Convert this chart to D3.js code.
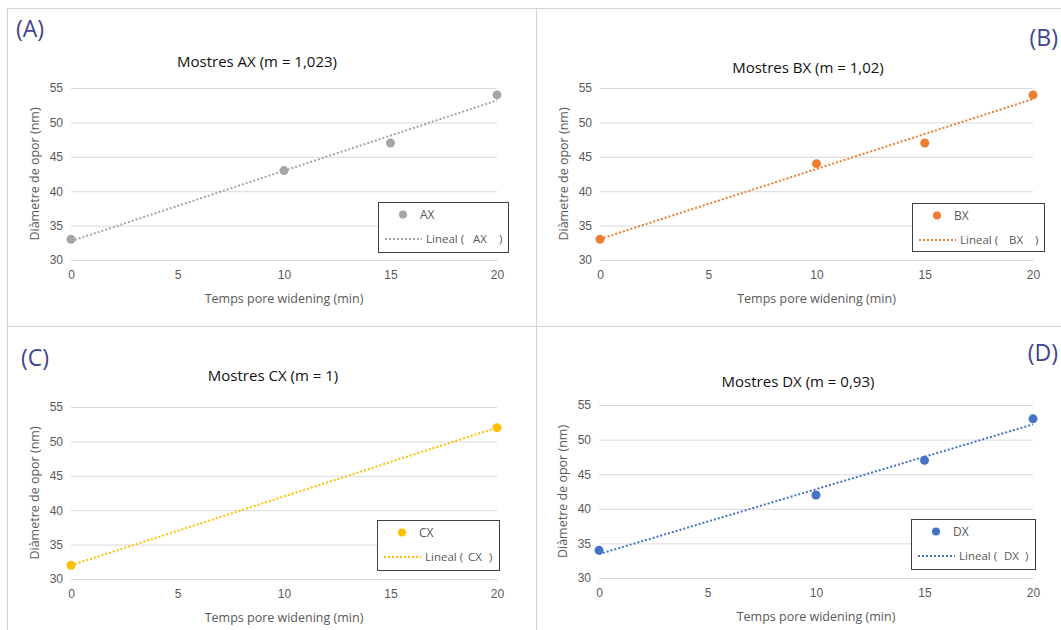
<!DOCTYPE html>
<html>
<head>
<meta charset="utf-8">
<script src="https://cdn.jsdelivr.net/npm/d3@7"></script>
<style>
    body { margin: 0; background: #fff; }
    svg { font-family: "Open Sans", "Noto Sans", sans-serif; }
</style>
</head>
<body>
<svg id="chart" width="1061" height="630"></svg>
<script>
// data
var panelLetters = ["(A)", "(B)", "(C)", "(D)"];
var seriesNames = ["AX", "BX", "CX", "DX"];
var slopeLabels = ["1,023", "1,02", "1", "0,93"];
var timeAX = [0, 10, 15, 20], diamAX = [33, 43, 47, 54];
var timeBX = [0, 10, 15, 20], diamBX = [33, 44, 47, 54];
var timeCX = [0, 20], diamCX = [32, 52];
var timeDX = [0, 10, 15, 20], diamDX = [34, 42, 47, 53];
var xTicks = [0, 5, 10, 15, 20];
var yTicks = [30, 35, 40, 45, 50, 55];
var xTitle = "Temps pore widening (min)";
var yTitle = "Diàmetre de opor (nm)";

var seriesColors = ["#a5a5a5", "#ed7d31", "#ffc000", "#4472c4"];

// layout of each panel (plot box, title, letter, legend)
var layout = [
    { x0: 71, x1: 497, y0: 88, y1: 260, titleX: 257, titleY: 67, letterX: 16, letterY: 37, letterAnchor: "start",
      lg: { x: 378, y: 202, w: 130, h: 50, name: 95, paren: 121 } },
    { x0: 600, x1: 1033, y0: 88, y1: 260, titleX: 808, titleY: 73, letterX: 1058, letterY: 46, letterAnchor: "end",
      lg: { x: 912, y: 203, w: 132, h: 48, name: 97, paren: 123 } },
    { x0: 71, x1: 497, y0: 407, y1: 579, titleX: 273, titleY: 381, letterX: 21, letterY: 366, letterAnchor: "start",
      lg: { x: 377, y: 520, w: 122, h: 50, name: 91, paren: 112 } },
    { x0: 599, x1: 1033, y0: 405, y1: 578, titleX: 798, titleY: 387, letterX: 1058, letterY: 361, letterAnchor: "end",
      lg: { x: 911, y: 519, w: 124, h: 50, name: 93, paren: 114 } }
];

var times = [timeAX, timeBX, timeCX, timeDX];
var diams = [diamAX, diamBX, diamCX, diamDX];

var svg = d3.select("#chart");

// panel frames
var frameColor = "#d4d4d4";
svg.append("line").attr("x1", 7).attr("x2", 1061).attr("y1", 8.5).attr("y2", 8.5).attr("stroke", frameColor);
svg.append("line").attr("x1", 7).attr("x2", 1061).attr("y1", 326.5).attr("y2", 326.5).attr("stroke", frameColor);
svg.append("line").attr("x1", 7.5).attr("x2", 7.5).attr("y1", 8).attr("y2", 630).attr("stroke", frameColor);
svg.append("line").attr("x1", 536.5).attr("x2", 536.5).attr("y1", 8).attr("y2", 630).attr("stroke", frameColor);

var linearFit = function (xs, ys) {
    var mx = d3.mean(xs), my = d3.mean(ys);
    var sxy = d3.sum(xs, function (x, i) { return (x - mx) * (ys[i] - my); });
    var sxx = d3.sum(xs, function (x) { return (x - mx) * (x - mx); });
    var slope = sxy / sxx;
    return { slope: slope, intercept: my - slope * mx };
};

layout.forEach(function (L, i) {
    var color = seriesColors[i];
    var xs = times[i], ys = diams[i];
    var points = xs.map(function (x, j) { return { t: x, d: ys[j] }; });

    var xScale = d3.scaleLinear().domain([0, 20]).range([L.x0, L.x1]);
    var yScale = d3.scaleLinear().domain([30, 55]).range([L.y1, L.y0]);
    var g = svg.append("g");

    // grid
    var yAxis = d3.axisLeft(yScale)
        .tickValues(yTicks)
        .tickSize(-(L.x1 - L.x0))
        .tickPadding(8)
        .tickFormat(d3.format("d"));
    var yG = g.append("g").attr("transform", `translate(${L.x0},0)`).call(yAxis);
    yG.select(".domain").remove();
    yG.selectAll(".tick line").attr("stroke", "#d9d9d9");
    yG.selectAll(".tick text").attr("fill", "#595959").attr("font-size", 12).attr("font-family", null);

    var xAxis = d3.axisBottom(xScale)
        .tickValues(xTicks)
        .tickSize(0)
        .tickPadding(10)
        .tickFormat(d3.format("d"));
    var xG = g.append("g").attr("transform", `translate(0,${L.y1})`).call(xAxis);
    xG.select(".domain").attr("stroke", "#d9d9d9");
    xG.selectAll(".tick text").attr("fill", "#595959").attr("font-size", 12).attr("font-family", null);

    // titles
    g.append("text")
        .attr("x", L.titleX).attr("y", L.titleY)
        .attr("text-anchor", "middle")
        .attr("font-size", 15)
        .attr("fill", "#111")
        .text(`Mostres ${seriesNames[i]} (m = ${slopeLabels[i]})`);
    g.append("text")
        .attr("x", (L.x0 + L.x1) / 2).attr("y", L.y1 + 43)
        .attr("text-anchor", "middle")
        .attr("font-size", 12.5)
        .attr("fill", "#595959")
        .text(xTitle);
    g.append("text")
        .attr("transform", `translate(${L.x0 - 32},${(L.y0 + L.y1) / 2}) rotate(-90)`)
        .attr("text-anchor", "middle")
        .attr("font-size", 12.5)
        .attr("fill", "#595959")
        .text(yTitle);
    g.append("text")
        .attr("x", L.letterX).attr("y", L.letterY)
        .attr("text-anchor", L.letterAnchor)
        .attr("font-size", 23)
        .attr("fill", "#3f4590")
        .text(panelLetters[i]);

    // trend line
    var fit = linearFit(xs, ys);
    var line = d3.line()
        .x(function (t) { return xScale(t); })
        .y(function (t) { return yScale(fit.intercept + fit.slope * t); });
    g.append("path")
        .datum([0, 20])
        .attr("d", line)
        .attr("fill", "none")
        .attr("stroke", color)
        .attr("stroke-width", 2)
        .attr("stroke-dasharray", "2,2");

    // points
    g.selectAll(".dot")
        .data(points)
        .enter().append("circle")
        .attr("class", "dot")
        .attr("cx", function (p) { return xScale(p.t); })
        .attr("cy", function (p) { return yScale(p.d); })
        .attr("r", 4.5)
        .attr("fill", color);

    // legend
    var lg = L.lg;
    var lgG = g.append("g").attr("transform", `translate(${lg.x},${lg.y})`);
    lgG.append("rect")
        .attr("x", 0.5).attr("y", 0.5)
        .attr("width", lg.w).attr("height", lg.h)
        .attr("fill", "#fff")
        .attr("stroke", "#404040");
    lgG.append("circle").attr("cx", 25).attr("cy", 12.5).attr("r", 4).attr("fill", color);
    lgG.append("text").attr("x", 42).attr("y", 16.5).attr("font-size", 12).attr("fill", "#595959").text(seriesNames[i]);
    lgG.append("line")
        .attr("x1", 7).attr("x2", 44).attr("y1", 37).attr("y2", 37)
        .attr("stroke", color).attr("stroke-width", 2).attr("stroke-dasharray", "2,2");
    lgG.append("text").attr("x", 48).attr("y", 41).attr("font-size", 11.5).attr("fill", "#595959").text("Lineal (");
    lgG.append("text").attr("x", lg.name).attr("y", 41).attr("font-size", 11.5).attr("fill", "#595959").text(seriesNames[i]);
    lgG.append("text").attr("x", lg.paren).attr("y", 41).attr("font-size", 11.5).attr("fill", "#595959").text(")");
});
</script>
</body>
</html>
